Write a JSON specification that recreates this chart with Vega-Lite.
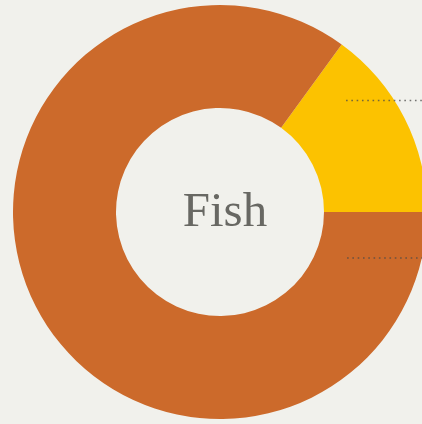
{
  "$schema": "https://vega.github.io/schema/vega-lite/v6.json",
  "width": 404,
  "height": 424,
  "padding": {"left": 18, "right": 0, "top": 0, "bottom": 0},
  "autosize": {"type": "none"},
  "background": "#f1f1ec",
  "config": {"view": {"stroke": null}},
  "layer": [
    {
      "data": {"values": [
        {"category": "Fish (yellow)", "value": 15, "order": 1},
        {"category": "Fish (orange)", "value": 85, "order": 2}
      ]},
      "mark": {"type": "arc", "radius": 207, "radius2": 104, "stroke": null},
      "encoding": {
        "theta": {"field": "value", "type": "quantitative", "stack": true, "scale": {"range": [0.6283, 6.9115]}},
        "order": {"field": "order", "type": "quantitative"},
        "color": {"field": "category", "type": "nominal", "legend": null,
          "scale": {"domain": ["Fish (yellow)", "Fish (orange)"], "range": ["#fcc200", "#cc6a2b"]}}
      }
    },
    {
      "data": {"values": [
        {"leader": "top", "x": 0.609, "x2": 1.1, "y": 0.539},
        {"leader": "bottom", "x": 0.614, "x2": 1.1, "y": -0.222}
      ]},
      "mark": {"type": "rule", "strokeDash": [1.6, 3.7], "strokeWidth": 1.5, "color": "#4a4a48", "opacity": 0.75, "clip": true},
      "encoding": {
        "x": {"field": "x", "type": "quantitative", "scale": {"domain": [-0.976, 0.976], "nice": false, "zero": false}, "axis": null},
        "x2": {"field": "x2"},
        "y": {"field": "y", "type": "quantitative", "scale": {"domain": [-1.024, 1.024], "nice": false, "zero": false}, "axis": null}
      }
    },
    {
      "data": {"values": [{"label": "Fish", "x": 0.024, "y": -0.068}]},
      "mark": {"type": "text", "font": "Liberation Serif", "fontSize": 49, "color": "#686863", "align": "center", "baseline": "alphabetic"},
      "encoding": {
        "text": {"field": "label"},
        "x": {"field": "x", "type": "quantitative", "scale": {"domain": [-0.976, 0.976], "nice": false, "zero": false}, "axis": null},
        "y": {"field": "y", "type": "quantitative", "scale": {"domain": [-1.024, 1.024], "nice": false, "zero": false}, "axis": null}
      }
    }
  ]
}
